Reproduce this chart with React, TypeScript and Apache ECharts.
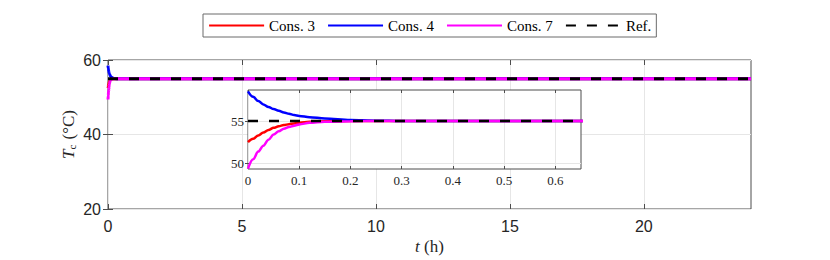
import React, { useEffect, useRef } from "react";
import * as echarts from "echarts";

const seriesNames = ["Cons. 3", "Cons. 4", "Cons. 7", "Ref."];
const seriesColors = ["#ff0000", "#0000ff", "#ff00ff", "#000000"];

const times = [0, 0.01, 0.02, 0.03, 0.04, 0.05, 0.06, 0.07, 0.08, 0.09, 0.1, 0.12, 0.15, 0.2, 0.25, 0.3, 24];
const cons3 = [52.5, 52.9, 53.3, 53.65, 53.95, 54.2, 54.38, 54.52, 54.63, 54.72, 54.8, 54.9, 54.96, 55.0, 55.0, 55.0, 55.0];
const cons4 = [58.5, 57.85, 57.35, 56.95, 56.65, 56.4, 56.2, 56.0, 55.85, 55.7, 55.6, 55.45, 55.3, 55.12, 55.04, 55.0, 55.0];
const cons7 = [49.4, 50.5, 51.4, 52.1, 52.8, 53.4, 53.8, 54.1, 54.3, 54.45, 54.6, 54.78, 54.9, 54.98, 55.0, 55.0, 55.0];
const refTimes = [0, 24];
const refValues = [55, 55];

const mainXTicks = [0, 5, 10, 15, 20];
const insetXTicks = [0, 0.1, 0.2, 0.3, 0.4, 0.5, 0.6];
const insetYTicks = [50, 55];

const AXIS_COLOR = "#4d4d4d";
const TEXT_COLOR = "#262626";
const GRID_COLOR = "#e6e6e6";
const SANS = "'Liberation Sans', Arial, sans-serif";
const SERIF = "'Liberation Serif', 'Times New Roman', serif";

function pairs(xs: number[], ys: number[]) {
  return xs.map((x, i) => [x, ys[i]]);
}

export default function App() {
  const ref = useRef<HTMLDivElement>(null);
  useEffect(() => {
    if (!ref.current) return;
    const chart = echarts.init(ref.current, null, { renderer: "svg" });
    const curveData = [cons3, cons4, cons7];

    const mkSeries = (idx: number, inset: boolean) => {
      const isRef = idx === 3;
      const data = isRef ? pairs(refTimes, refValues) : pairs(times, curveData[idx]);
      return {
        type: "line",
        name: seriesNames[idx],
        xAxisIndex: inset ? 2 : 0,
        yAxisIndex: inset ? 2 : 0,
        data,
        showSymbol: false,
        symbol: "none",
        smooth: isRef ? false : 0.35,
        smoothMonotone: "x",
        clip: true,
        z: inset ? 12 + idx : 3 + idx,
        lineStyle: {
          color: seriesColors[idx],
          width: inset ? 2.5 : 3,
          type: isRef ? [10, 11] : "solid",
        },
        itemStyle: { color: seriesColors[idx] },
      };
    };

    const hiddenAxisBits = {
      axisLabel: { show: false },
      splitLine: { show: false },
      axisLine: { show: false },
    };

    chart.setOption({
      animation: false,
      legend: {
        data: seriesNames,
        left: 203,
        top: 14,
        padding: [4, 5, 4, 5],
        itemWidth: 55,
        itemHeight: 14,
        itemGap: 12,
        borderColor: "#6b6b6b",
        borderWidth: 1,
        backgroundColor: "#fff",
        lineStyle: { width: 2.2 },
        itemStyle: { opacity: 0 },
        textStyle: { fontFamily: SERIF, fontSize: 15, color: "#000" },
        selectedMode: false,
      },
      grid: [
        {
          left: 108,
          top: 60,
          right: 79,
          bottom: 50,
          show: true,
          borderColor: AXIS_COLOR,
          borderWidth: 1,
          backgroundColor: "#fff",
          z: 0,
        },
        {
          left: 248,
          top: 90,
          right: 249,
          bottom: 91,
          show: true,
          borderColor: AXIS_COLOR,
          borderWidth: 1,
          backgroundColor: "#fff",
          z: 8,
        },
      ],
      xAxis: [
        {
          type: "value",
          gridIndex: 0,
          min: 0,
          max: 24,
          interval: 5,
          position: "bottom",
          axisLine: { show: false },
          axisTick: { show: true, inside: true, length: 5, lineStyle: { color: AXIS_COLOR }, customValues: mainXTicks },
          axisLabel: {
            customValues: mainXTicks,
            margin: 9,
            fontFamily: SANS,
            fontSize: 16,
            color: TEXT_COLOR,
          },
          splitLine: { show: true, lineStyle: { color: GRID_COLOR, width: 1 } },
          name: "{i|t} (h)",
          nameLocation: "middle",
          nameGap: 29,
          nameMoveOverlap: false,
          nameTextStyle: {
            fontFamily: SERIF,
            fontSize: 17,
            color: TEXT_COLOR,
            rich: { i: { fontFamily: SERIF, fontStyle: "italic", fontSize: 17, color: TEXT_COLOR } },
          },
          z: 1,
        },
        {
          type: "value",
          gridIndex: 0,
          min: 0,
          max: 24,
          interval: 5,
          position: "top",
          axisTick: { show: true, inside: true, length: 5, lineStyle: { color: AXIS_COLOR }, customValues: mainXTicks },
          ...hiddenAxisBits,
          z: 1,
        },
        {
          type: "value",
          gridIndex: 1,
          min: 0,
          max: 0.65,
          interval: 0.1,
          position: "bottom",
          axisLine: { show: false },
          axisTick: { show: true, inside: true, length: 3, lineStyle: { color: AXIS_COLOR }, customValues: insetXTicks },
          axisLabel: {
            customValues: insetXTicks,
            margin: 5,
            fontFamily: SERIF,
            fontSize: 13,
            color: TEXT_COLOR,
          },
          splitLine: { show: true, lineStyle: { color: GRID_COLOR, width: 1 } },
          z: 10,
        },
        {
          type: "value",
          gridIndex: 1,
          min: 0,
          max: 0.65,
          interval: 0.1,
          position: "top",
          axisTick: { show: true, inside: true, length: 3, lineStyle: { color: AXIS_COLOR }, customValues: insetXTicks },
          ...hiddenAxisBits,
          z: 10,
        },
      ],
      yAxis: [
        {
          type: "value",
          gridIndex: 0,
          min: 20,
          max: 60,
          interval: 20,
          position: "left",
          axisLine: { show: false },
          axisTick: { show: true, inside: true, length: 5, lineStyle: { color: AXIS_COLOR } },
          axisLabel: { margin: 7, fontFamily: SANS, fontSize: 16, color: TEXT_COLOR },
          splitLine: { show: true, lineStyle: { color: GRID_COLOR, width: 1 } },
          name: "{i|T}{s|c} (°C)",
          nameLocation: "middle",
          nameGap: 31,
          nameMoveOverlap: false,
          nameRotate: 90,
          nameTextStyle: {
            fontFamily: SERIF,
            fontSize: 17,
            color: TEXT_COLOR,
            rich: {
              i: { fontFamily: SERIF, fontStyle: "italic", fontSize: 17, color: TEXT_COLOR },
              s: { fontFamily: SERIF, fontStyle: "normal", fontSize: 11, color: TEXT_COLOR, padding: [7, 1, 0, 0] },
            },
          },
          z: 1,
        },
        {
          type: "value",
          gridIndex: 0,
          min: 20,
          max: 60,
          interval: 20,
          position: "right",
          axisTick: { show: true, inside: true, length: 5, lineStyle: { color: AXIS_COLOR } },
          ...hiddenAxisBits,
          z: 1,
        },
        {
          type: "value",
          gridIndex: 1,
          min: 49.35,
          max: 58.65,
          position: "left",
          axisLine: { show: false },
          axisTick: { show: true, inside: true, length: 3, lineStyle: { color: AXIS_COLOR }, customValues: insetYTicks },
          axisLabel: {
            customValues: insetYTicks,
            margin: 4,
            fontFamily: SERIF,
            fontSize: 13,
            color: TEXT_COLOR,
          },
          splitLine: { show: true, lineStyle: { color: GRID_COLOR, width: 1 } },
          z: 10,
        },
        {
          type: "value",
          gridIndex: 1,
          min: 49.35,
          max: 58.65,
          position: "right",
          axisTick: { show: true, inside: true, length: 3, lineStyle: { color: AXIS_COLOR }, customValues: insetYTicks },
          ...hiddenAxisBits,
          z: 10,
        },
      ],
      series: [
        mkSeries(0, false),
        mkSeries(1, false),
        mkSeries(2, false),
        mkSeries(3, false),
        mkSeries(0, true),
        mkSeries(1, true),
        mkSeries(2, true),
        mkSeries(3, true),
      ],
    });
    return () => chart.dispose();
  }, []);
  return <div ref={ref} style={{ width: 830, height: 260, position: "absolute", left: 0, top: 0 }} />;
}
